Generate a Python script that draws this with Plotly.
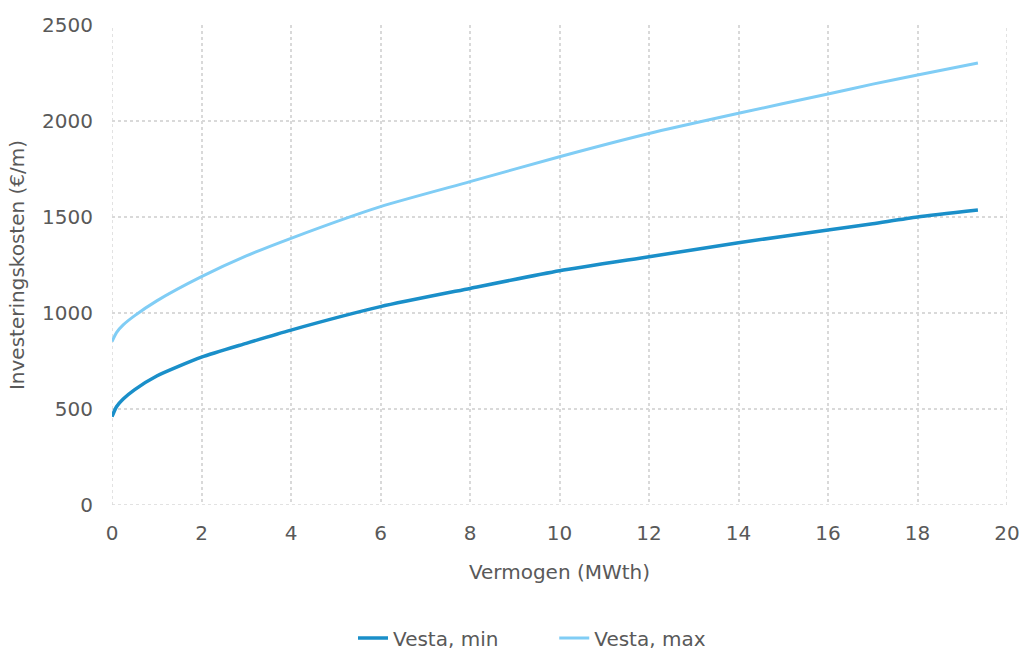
import plotly.graph_objects as go

x_vals = [0, 0.1, 0.25, 0.5, 1, 2, 3, 4, 6, 8, 10, 12, 14, 16, 17, 18, 19.35]
vesta_min = [460, 512, 552, 600, 672, 770, 842, 911, 1033, 1128, 1220, 1293, 1366, 1432, 1465, 1500, 1536]
vesta_max = [851, 898, 938, 985, 1063, 1189, 1297, 1389, 1554, 1684, 1814, 1935, 2040, 2141, 2192, 2240, 2302]

x_ticks = [0, 2, 4, 6, 8, 10, 12, 14, 16, 18, 20]
y_ticks = [0, 500, 1000, 1500, 2000, 2500]

wide = "DejaVu Sans, Verdana, sans-serif"
txt_col = "#595959"
grid_col = "#d9d9d9"

fig = go.Figure()
fig.add_trace(go.Scatter(x=x_vals, y=vesta_min, mode="lines", name="Vesta, min" + "\u00a0" * 8,
                         line=dict(color="#1a8fc9", width=3.5, shape="spline", smoothing=0.6)))
fig.add_trace(go.Scatter(x=x_vals, y=vesta_max, mode="lines", name="Vesta, max",
                         line=dict(color="#80cdf5", width=3, shape="spline", smoothing=0.6)))

fig.update_layout(
    width=1032, height=650,
    paper_bgcolor="white", plot_bgcolor="white",
    margin=dict(l=112, r=18, t=25, b=145),
    font=dict(family=wide, size=20, color=txt_col),
    showlegend=True,
    legend=dict(orientation="h", x=532 / 1032, xanchor="center", xref="container",
                y=(650 - 638) / 650, yanchor="middle", yref="container",
                font=dict(family=wide, size=20, color=txt_col), traceorder="normal"),
    xaxis=dict(range=[0, 20], tickvals=x_ticks, showgrid=True, gridcolor=grid_col, griddash="dot",
               gridwidth=1.5, zeroline=False, showline=False, ticks="", ticklabelstandoff=14,
               title=dict(text="Vermogen (MWth)", font=dict(family=wide, size=20, color=txt_col), standoff=20),
               tickfont=dict(family=wide, size=20, color=txt_col)),
    yaxis=dict(range=[0, 2500], tickvals=y_ticks, showgrid=True, gridcolor=grid_col, griddash="dot",
               gridwidth=1.5, zeroline=False, showline=False, ticks="", ticklabelstandoff=18,
               title=dict(text="Investeringskosten (€/m)", font=dict(family=wide, size=20, color=txt_col), standoff=12),
               tickfont=dict(family=wide, size=20, color=txt_col)),
)
fig.add_shape(type="line", xref="x", yref="y", x0=20, x1=20, y0=0, y1=2500,
              line=dict(color=grid_col, width=1.5, dash="dot"), layer="below")
fig.add_shape(type="line", xref="x", yref="y", x0=0, x1=0, y0=0, y1=2500,
              line=dict(color=grid_col, width=1.5, dash="dot"), layer="below")
fig.add_shape(type="line", xref="x", yref="y", x0=0, x1=20, y0=0, y1=0,
              line=dict(color=grid_col, width=1.5, dash="dot"), layer="below")

fig.write_html("out.html", config={"displayModeBar": False},
               post_script="document.body.style.margin='0';")
